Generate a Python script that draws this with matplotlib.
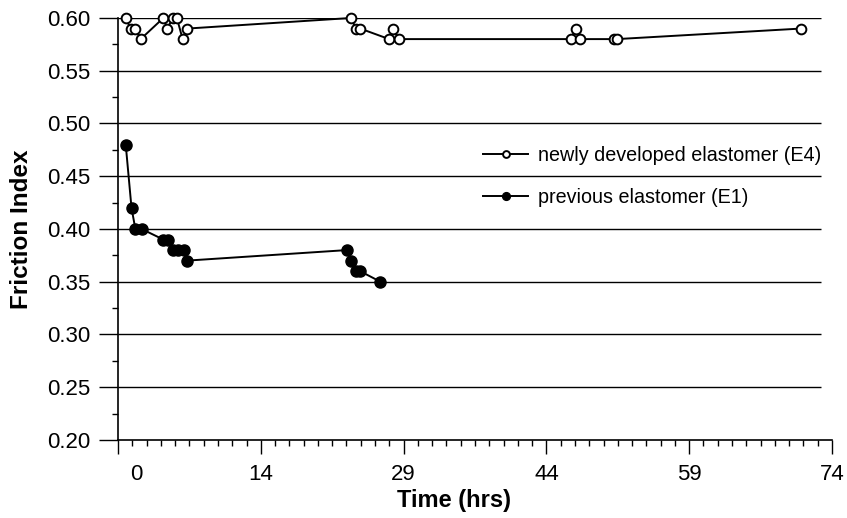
import matplotlib
matplotlib.use("Agg")
import matplotlib.pyplot as plt
import matplotlib.transforms as mtransforms
from matplotlib.ticker import MultipleLocator, FixedLocator

# newly developed elastomer (E4), open circles
e4_time = [0.8, 1.3, 1.8, 2.35, 4.7, 5.1, 5.7, 6.1, 6.7, 7.2,
           24.1, 24.7, 25.1, 28.1, 28.5, 29.1, 46.9, 47.5, 47.9,
           51.4, 51.7, 70.8]
e4_fi = [0.60, 0.59, 0.59, 0.58, 0.60, 0.59, 0.60, 0.60, 0.58, 0.59,
         0.60, 0.59, 0.59, 0.58, 0.59, 0.58, 0.58, 0.59, 0.58,
         0.58, 0.58, 0.59]

# previous elastomer (E1), filled circles
e1_time = [0.8, 1.4, 1.8, 2.45, 4.7, 5.2, 5.7, 6.25, 6.8, 7.1,
           23.7, 24.15, 24.7, 25.1, 27.2]
e1_fi = [0.48, 0.42, 0.40, 0.40, 0.39, 0.39, 0.38, 0.38, 0.38, 0.37,
         0.38, 0.37, 0.36, 0.36, 0.35]

x_ticks = [0, 14.8, 29.6, 44.4, 59.2, 74]
x_ticklabels = ['0', '14', '29', '44', '59', '74']
y_ticks = [0.20, 0.25, 0.30, 0.35, 0.40, 0.45, 0.50, 0.55, 0.60]

plt.rcParams['font.family'] = ['Liberation Sans', 'DejaVu Sans']

fig = plt.figure(figsize=(8.47, 5.18), dpi=100)
ax = fig.add_axes([118/847, 1 - 440/518, (832-118)/847, (440-18)/518])

# horizontal gridlines (stop a little short of the x-axis end)
for y in y_ticks[1:]:
    ax.hlines(y, 0, 72.9, color='black', lw=1.0, zorder=1)

ax.plot(e4_time, e4_fi, '-o', color='black', lw=1.4, ms=7,
        mfc='white', mec='black', mew=1.4, zorder=3, clip_on=False,
        label='newly developed elastomer (E4)')
ax.plot(e1_time, e1_fi, '-o', color='black', lw=1.4, ms=8,
        mfc='black', mec='black', zorder=3, clip_on=False,
        label='previous elastomer (E1)')

ax.set_xlim(0, 74)
ax.set_ylim(0.20, 0.60)

ax.xaxis.set_major_locator(FixedLocator(x_ticks))
ax.set_xticklabels(x_ticklabels)
ax.xaxis.set_minor_locator(MultipleLocator(1.48))
ax.set_yticks(y_ticks)
ax.set_yticklabels([f'{v:.2f}' for v in y_ticks])
ax.yaxis.set_minor_locator(MultipleLocator(0.025))

ax.tick_params(axis='both', which='major', labelsize=16, width=1.0, color='black')
ax.tick_params(axis='x', which='major', length=10, pad=7)
ax.tick_params(axis='x', which='minor', length=4, width=1.0)
ax.tick_params(axis='y', which='major', length=14, pad=6)
ax.tick_params(axis='y', which='minor', length=4, width=1.0)

# the "0" label sits a bit right of its tick
lbl0 = ax.get_xticklabels()[0]
lbl0.set_transform(lbl0.get_transform() +
                   mtransforms.ScaledTranslation(0.18, 0, fig.dpi_scale_trans))

for side in ['top', 'right']:
    ax.spines[side].set_visible(False)
for side in ['left', 'bottom']:
    ax.spines[side].set_linewidth(1.2)

ax.set_xlabel('Time (hrs)', fontsize=17, fontweight='bold')
ax.xaxis.set_label_coords((454 - 118) / 714, -(489 - 440) / 422)
ax.set_ylabel('Friction Index', fontsize=17.5, fontweight='bold', labelpad=10)

ax.legend(loc='center left', bbox_to_anchor=(0.511, 0.625), frameon=False,
          fontsize=14.2, borderpad=0, borderaxespad=0, handlelength=2.3,
          handletextpad=0.5, labelspacing=1.15, markerscale=0.7)

fig.savefig('out.png', dpi=100)
